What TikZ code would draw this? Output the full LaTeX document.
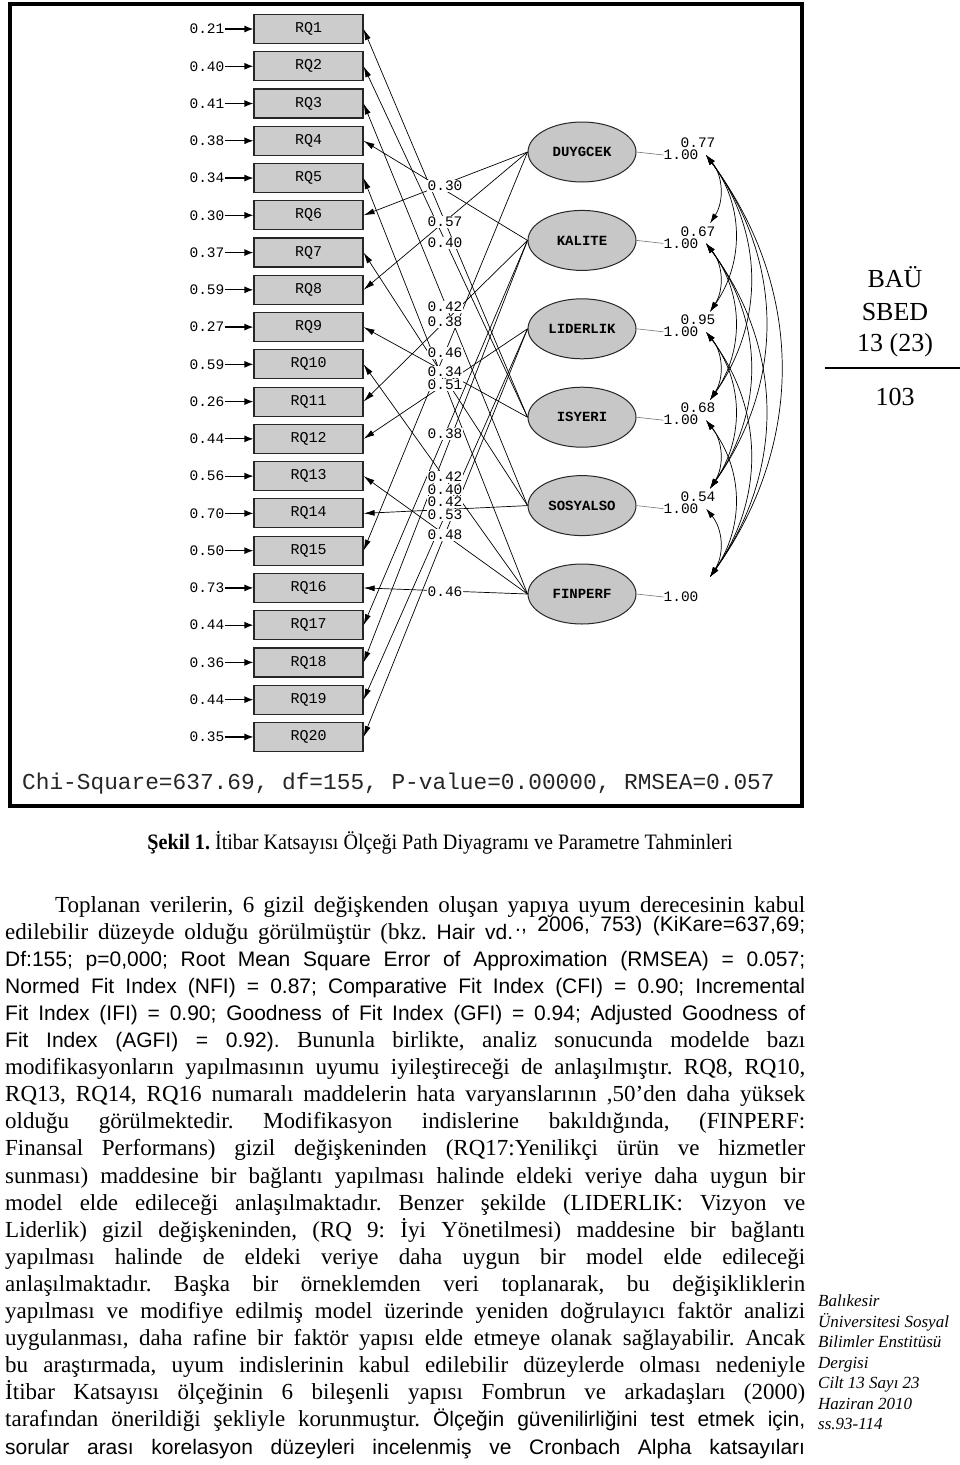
\documentclass[tikz,border=0pt]{standalone}
\usepackage{fontspec}
\setmainfont{Liberation Serif}
\newfontfamily\monof{Liberation Mono}
\newfontfamily\sansf{Liberation Sans}
\newcommand\arl[1]{{\sansf\fontsize{21}{27}\selectfont #1}}
\usetikzlibrary{shapes.geometric,arrows.meta}
\frenchspacing
\begin{document}
\begin{tikzpicture}[x=1pt,y=-1pt,
  obs/.style={draw=black!85,line width=1.2pt,fill=black!20,minimum width=109pt,minimum height=29pt,inner sep=0pt,font=\monof\fontsize{15}{15}\selectfont},
  lat/.style={ellipse,draw=black!85,line width=1pt,fill=black!22,minimum width=108pt,minimum height=60pt,inner sep=0pt,font=\monof\bfseries\fontsize{14}{14}\selectfont},
  err/.style={inner sep=0pt,font=\monof\fontsize{14.5}{15}\selectfont},
  lab/.style={fill=white,inner sep=0.8pt,font=\monof\fontsize{14.5}{15}\selectfont},
  load/.style={-{Latex[length=11pt,width=6pt]},line width=0.7pt},
  errarr/.style={-{Latex[length=9pt,width=7pt]},line width=1.2pt},
  cov/.style={{Latex[length=10pt,width=6pt]}-{Latex[length=10pt,width=6pt]},line width=0.7pt},
  body/.style={anchor=base west,inner sep=0pt,font=\fontsize{23}{27}\selectfont},
  side/.style={inner sep=0pt,font=\fontsize{26}{30}\selectfont},
  note/.style={anchor=base west,inner sep=0pt,font=\itshape\fontsize{17}{20}\selectfont}]
\useasboundingbox (0,0) rectangle (960,1465);
% frame
\draw[line width=3.5pt] (10,4) rectangle (802,806);
% observed variables
\foreach \i/\e in {1/0.21,2/0.40,3/0.41,4/0.38,5/0.34,6/0.30,7/0.37,8/0.59,9/0.27,10/0.59,11/0.26,12/0.44,13/0.56,14/0.70,15/0.50,16/0.73,17/0.44,18/0.36,19/0.44,20/0.35}{
  \pgfmathsetmacro\yy{29+(\i-1)*37.26}
  \node[obs] (rq\i) at (308.5,\yy) {RQ\i};
  \node[err] (e\i) at (207,\yy) {\e};
  \draw[errarr] (e\i.east) -- (rq\i.west);
}
% latent variables
\foreach \n/\t/\y in {d/DUYGCEK/152,k/KALITE/240.4,l/LIDERLIK/328.8,i/ISYERI/417.2,s/SOSYALSO/505.6,f/FINPERF/594}{
  \node[lat] (\n) at (582,\y) {\t};
  \node[err] (o\n) at (681,{\y+3}) {1.00};
  \draw[black!55,line width=0.6pt] (\n.east) -- (o\n.west);
  \coordinate (L\n) at (706,{\y+3});
  \coordinate (U\n) at (710,{\y-17});
}
% loadings
\foreach \a/\b in {d/6,d/8,d/15,k/4,k/11,k/17,k/18,l/12,l/19,l/20,i/1,i/2,i/9,s/3,s/7,s/14,f/5,f/10,f/13,f/16}{
  \draw[load] (\a.west) -- (rq\b.east);
}
% loading labels
\node[lab] (m1) at (445,186) {0.30};
\node[lab] (m2) at (445,222) {0.57};
\node[lab] (m3) at (445,243) {0.40};
\node[lab] (m4) at (445,307) {0.42};
\node[lab] (m5) at (445,322) {0.38};
\node[lab] (m6) at (445,353) {0.46};
\node[lab] (m7) at (445,372) {0.34};
\node[lab] (m8) at (445,385) {0.51};
\node[lab] (m9) at (445,434) {0.38};
\node[lab] (m10) at (445,477) {0.42};
\node[lab] (m11) at (445,489.5) {0.40};
\node[lab] (m12) at (445,502) {0.42};
\node[lab] (m13) at (445,515) {0.53};
\node[lab] (m14) at (445,535) {0.48};
\node[lab] (m15) at (445,592) {0.46};
% covariances
\foreach \a/\b in {d/k,d/l,d/i,d/s,d/f,k/l,k/i,k/s,k/f,l/i,l/s,l/f,i/s,i/f,s/f}{
  \draw[cov] (L\a) to[bend left=36] (U\b);
}
\node[lab] (c1) at (698,143) {0.77};
\node[lab] (c2) at (698,231.4) {0.67};
\node[lab] (c3) at (698,319.8) {0.95};
\node[lab] (c4) at (698,408.2) {0.68};
\node[lab] (c5) at (698,496.6) {0.54};
% fit line
\node[inner sep=0pt,anchor=west,text=black!85,font=\monof\fontsize{22.8}{24}\selectfont] (chi) at (22,784) {Chi-Square=637.69, df=155, P-value=0.00000, RMSEA=0.057};
% caption
\node[inner sep=0pt,font=\fontsize{22}{26}\selectfont] (cap) at (440,843) {\resizebox{585pt}{\height}{\textbf{Şekil 1.} İtibar Katsayısı Ölçeği Path Diyagramı ve Parametre Tahminleri}};
% side header
\node[side] (h1) at (895,277) {BAÜ};
\node[side] (h2) at (895,312) {SBED};
\node[side] (h3) at (895,345) {13 (23)};
\draw[line width=1.5pt] (825,368) -- (960,368);
\node[side] (h4) at (895,397) {103};
% body text
\node[body] (t0) at (55,912) {\makebox[750pt][s]{Toplanan verilerin, 6 gizil değişkenden oluşan yapıya uyum derecesinin kabul}};
\node[body] (t1a) at (5,939.1) {\makebox[508pt][s]{edilebilir düzeyde olduğu görülmüştür (bkz. \arl{Hair vd.}}};
\node[body] (t1b) at (515,931) {\makebox[290pt][s]{\arl{., 2006, 753) (KiKare=637,69;}}};
\node[body] (t2) at (5,966.2) {\makebox[800pt][s]{\arl{Df:155; p=0,000; Root Mean Square Error of Approximation (RMSEA) = 0.057;}}};
\node[body] (t3) at (5,993.3) {\makebox[800pt][s]{\arl{Normed Fit Index (NFI) = 0.87; Comparative Fit Index (CFI) = 0.90; Incremental}}};
\node[body] (t4) at (5,1020.4) {\makebox[800pt][s]{\arl{Fit Index (IFI) = 0.90; Goodness of Fit Index (GFI) = 0.94; Adjusted Goodness of}}};
\node[body] (t5) at (5,1047.5) {\makebox[800pt][s]{\arl{Fit Index (AGFI) = 0.92).} Bununla birlikte, analiz sonucunda modelde bazı}};
\node[body] (t6) at (5,1074.6) {\makebox[800pt][s]{modifikasyonların yapılmasının uyumu iyileştireceği de anlaşılmıştır. RQ8, RQ10,}};
\node[body] (t7) at (5,1101.7) {\makebox[800pt][s]{RQ13, RQ14, RQ16 numaralı maddelerin hata varyanslarının ,50’den daha yüksek}};
\node[body] (t8) at (5,1128.8) {\makebox[800pt][s]{olduğu görülmektedir. Modifikasyon indislerine bakıldığında, (FINPERF:}};
\node[body] (t9) at (5,1155.9) {\makebox[800pt][s]{Finansal Performans) gizil değişkeninden (RQ17:Yenilikçi ürün ve hizmetler}};
\node[body] (t10) at (5,1183) {\makebox[800pt][s]{sunması) maddesine bir bağlantı yapılması halinde eldeki veriye daha uygun bir}};
\node[body] (t11) at (5,1210.1) {\makebox[800pt][s]{model elde edileceği anlaşılmaktadır. Benzer şekilde (LIDERLIK: Vizyon ve}};
\node[body] (t12) at (5,1237.2) {\makebox[800pt][s]{Liderlik) gizil değişkeninden, (RQ 9: İyi Yönetilmesi) maddesine bir bağlantı}};
\node[body] (t13) at (5,1264.3) {\makebox[800pt][s]{yapılması halinde de eldeki veriye daha uygun bir model elde edileceği}};
\node[body] (t14) at (5,1291.4) {\makebox[800pt][s]{anlaşılmaktadır. Başka bir örneklemden veri toplanarak, bu değişikliklerin}};
\node[body] (t15) at (5,1318.5) {\makebox[800pt][s]{yapılması ve modifiye edilmiş model üzerinde yeniden doğrulayıcı faktör analizi}};
\node[body] (t16) at (5,1345.6) {\makebox[800pt][s]{uygulanması, daha rafine bir faktör yapısı elde etmeye olanak sağlayabilir. Ancak}};
\node[body] (t17) at (5,1372.7) {\makebox[800pt][s]{bu araştırmada, uyum indislerinin kabul edilebilir düzeylerde olması nedeniyle}};
\node[body] (t18) at (5,1399.8) {\makebox[800pt][s]{İtibar Katsayısı ölçeğinin 6 bileşenli yapısı Fombrun ve arkadaşları (2000)}};
\node[body] (t19) at (5,1426.9) {\makebox[800pt][s]{tarafından önerildiği şekliyle korunmuştur. \arl{Ölçeğin güvenilirliğini test etmek için,}}};
\node[body] (t20) at (5,1454) {\makebox[800pt][s]{\arl{sorular arası korelasyon düzeyleri incelenmiş ve Cronbach Alpha katsayıları}}};
% journal note
\node[note] (n1) at (818,1306) {Balıkesir};
\node[note] (n2) at (818,1327) {Üniversitesi Sosyal};
\node[note] (n3) at (818,1347.5) {Bilimler Enstitüsü};
\node[note] (n4) at (818,1368) {Dergisi};
\node[note] (n5) at (818,1388.5) {Cilt 13 Sayı 23};
\node[note] (n6) at (818,1409) {Haziran 2010};
\node[note] (n7) at (818,1429.5) {ss.93-114};
\end{tikzpicture}
\end{document}
